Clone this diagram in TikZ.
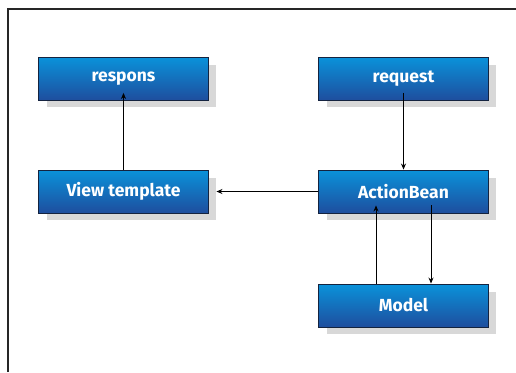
\documentclass[tikz,border=0pt]{standalone}
\usepackage{fontspec}
\setmainfont{Fira Sans}
\usetikzlibrary{arrows.meta}
\definecolor{boxtop}{HTML}{0A92DA}
\definecolor{boxbot}{HTML}{1E4E9E}
\definecolor{boxedge}{HTML}{14233F}
\definecolor{shadowc}{HTML}{D8D8D8}
\tikzset{
  boxnode/.style={minimum width=170pt, minimum height=43pt, inner sep=0pt,
    top color=boxtop, bottom color=boxbot, draw=boxedge, line width=0.9pt,
    text=white, font=\fontsize{17.5}{20}\selectfont\bfseries},
  conn/.style={line width=0.9pt, -{Stealth[length=6pt,width=5pt]}},
  frameline/.style={line width=1.4pt, draw=black!85}
}
\begin{document}
\begin{tikzpicture}[x=1pt,y=-1pt]
\useasboundingbox (0,0) rectangle (516,372);
\draw[frameline] (8,372) -- (8,9) -- (516,9);
% shadows
\foreach \x/\y in {123.5/78.5, 403.5/78.5, 123.5/191.5, 403.5/191.5, 403.5/305.5}
  \fill[shadowc] (\x-85+8,\y-21.5+8) rectangle (\x+85+7,\y+21.5+7);
\node[boxnode] (resp) at (123.5,78.5) {respons};
\node[boxnode] (req) at (403.5,78.5) {request};
\node[boxnode] (view) at (123.5,191.5) {View template};
\node[boxnode] (ab) at (403.5,191.5) {ActionBean};
\node[boxnode] (model) at (403.5,305.5) {Model};
\draw[conn] (view.north) -- ([yshift=7.5pt]resp.south);
\draw[conn] ([yshift=7.5pt]req.south) -- (ab.north);
\draw[conn] (ab.west) -- ([xshift=7.5pt]view.east);
\draw[conn] ([xshift=-27.5pt]model.north) -- ([xshift=-27.5pt,yshift=8pt]ab.south);
\draw[conn] ([xshift=27.5pt,yshift=8pt]ab.south) -- ([xshift=27.5pt]model.north);
\end{tikzpicture}
\end{document}
